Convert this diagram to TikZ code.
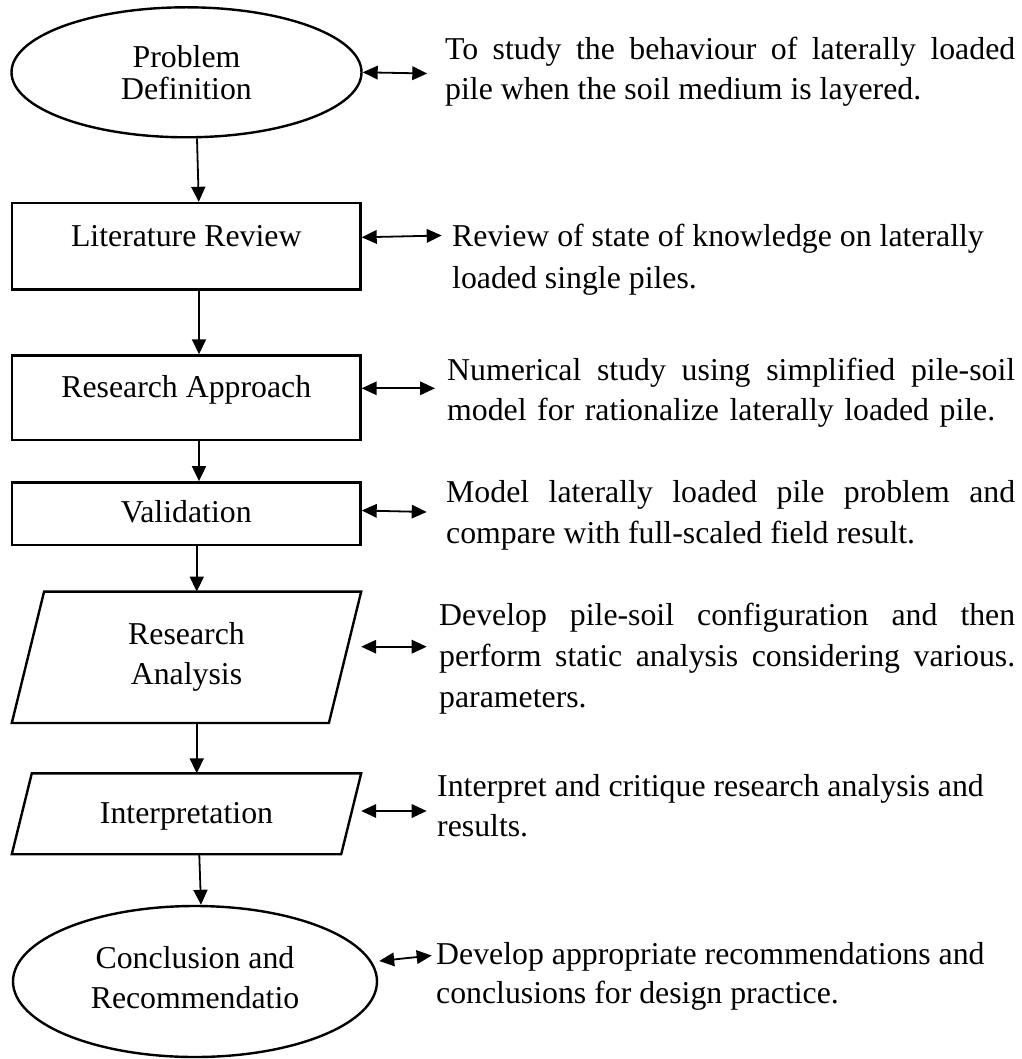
\documentclass[tikz,border=0pt]{standalone}
\usepackage{fontspec}
\setmainfont{Liberation Serif}
\usetikzlibrary{shapes.geometric,arrows.meta}
\newcommand{\jline}[2]{\makebox[#1][s]{#2}}
\begin{document}
\begin{tikzpicture}[x=1pt,y=-1pt,
  shp/.style={draw=black, line width=2.4pt},
  lbl/.style={font=\fontsize{31.8}{40}\selectfont, align=center, inner sep=0pt},
  flow/.style={-{Triangle[length=15pt,width=14pt]}, line width=1.8pt},
  both/.style={{Triangle[length=15pt,width=13.5pt]}-{Triangle[length=15pt,width=13.5pt]}, line width=1.8pt},
  txt/.style={anchor=base west, inner sep=0pt, font=\fontsize{31.8}{41}\selectfont},
]
\fill[white] (0,0) rectangle (1021,1059);
\useasboundingbox (0,0) rectangle (1021,1059);

% ---- left column shapes ----
\node[ellipse, shp, lbl, font=\fontsize{31.8}{32}\selectfont, minimum width=350pt, minimum height=130pt] (pd) at (186.5,72.3) {Problem\\Definition};

\node[rectangle, shp, lbl, minimum width=348.5pt, minimum height=86.5pt, text height=22pt, text depth=22pt] (lr) at (186.25,246.25) {Literature Review};

\node[rectangle, shp, lbl, minimum width=348.5pt, minimum height=84.5pt, text height=22pt, text depth=23.5pt] (rap) at (186.25,397.75) {Research Approach};

\node[rectangle, shp, lbl, minimum width=348.5pt, minimum height=62.4pt, text height=22pt, text depth=3.6pt] (val) at (186.25,513.5) {Validation};

\node[rectangle, lbl, minimum width=349pt, minimum height=131pt] (ran) at (186.5,657.25) {Research\\Analysis};
\draw[shp] ([xshift=32.3pt]ran.north west) -- (ran.north east) -- ([xshift=-32.3pt]ran.south east) -- (ran.south west) -- cycle;

\node[rectangle, lbl, minimum width=349pt, minimum height=80.5pt, text height=22pt, text depth=3.5pt] (itp) at (186.5,813.75) {Interpretation};
\draw[shp] ([xshift=20pt]itp.north west) -- (itp.north east) -- ([xshift=-20pt]itp.south east) -- (itp.south west) -- cycle;

\node[ellipse, shp, lbl, minimum width=364pt, minimum height=151pt] (cr) at (195,981.5) {Conclusion and\\Recommendatio\rule[-8pt]{0pt}{8pt}};

% ---- flow arrows ----
\draw[flow] ([xshift=10.5pt]pd.south) -- ([xshift=12.5pt]lr.north);
\draw[flow] ([xshift=12.75pt]lr.south) -- ([xshift=12.75pt]rap.north);
\draw[flow] ([xshift=12.75pt]rap.south) -- ([xshift=12.75pt]val.north);
\draw[flow] ([xshift=10.5pt]val.south) -- ([xshift=10.25pt]ran.north);
\draw[flow] ([xshift=10.25pt]ran.south) -- ([xshift=10.25pt]itp.north);
\draw[flow] ([xshift=12.75pt]itp.south) -- ([xshift=6pt]cr.north);

% ---- right-hand texts ----
\node[txt] (t1a) at (445,60) {\jline{570pt}{To study the behaviour of laterally loaded}};
\node[txt] (t1b) at (445,100) {pile when the soil medium is layered.};

\node[txt] (t2a) at (452,247) {Review of state of knowledge on laterally};
\node[txt] (t2b) at (452,288) {loaded single piles.};

\node[txt] (t3a) at (447,380) {\jline{568pt}{Numerical study using simplified pile-soil}};
\node[txt] (t3b) at (447,420) {\jline{548pt}{model for rationalize laterally loaded pile.}};

\node[txt] (t4a) at (446,502) {\jline{569pt}{Model laterally loaded pile problem and}};
\node[txt] (t4b) at (446,543) {compare with full-scaled field result.};

\node[txt] (t5a) at (439,625) {\jline{576pt}{Develop pile-soil configuration and then}};
\node[txt] (t5b) at (439,666) {\jline{576pt}{perform static analysis considering various.}};
\node[txt] (t5c) at (439,707) {parameters.};

\node[txt] (t6a) at (437,796) {Interpret and critique research analysis and};
\node[txt] (t6b) at (437,836) {results.};

\node[txt] (t7a) at (436,964) {Develop appropriate recommendations and};
\node[txt] (t7b) at (436,1003) {conclusions for design practice.};

% ---- double arrows ----
\coordinate (d1) at (427.3,73.5);
\coordinate (d2) at (441.7,235.5);
\coordinate (d3) at (435,388.3);
\coordinate (d4) at (426.7,512);
\coordinate (d5) at (426.7,646.7);
\coordinate (d6) at (426.7,811);
\coordinate (d7) at (431.7,955.5);
\draw[both] (pd.east) -- (d1);
\draw[both] ([yshift=8.95pt]lr.east) -- (d2);
\draw[both] ([yshift=9.45pt]rap.east) -- (d3);
\draw[both] ([yshift=3pt]val.east) -- (d4);
\draw[both] ([yshift=10.55pt]ran.east) -- (d5);
\draw[both] ([yshift=2.75pt]itp.east) -- (d6);
\draw[both] ([xshift=1pt,yshift=20.5pt]cr.east) -- (d7);
\end{tikzpicture}
\end{document}
